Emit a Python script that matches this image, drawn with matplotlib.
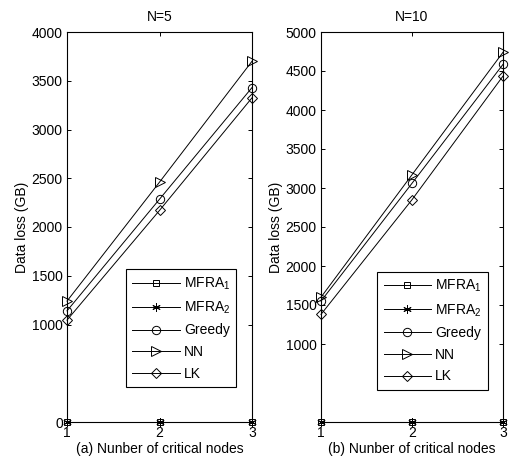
import numpy as np
import matplotlib
matplotlib.use('Agg')
import matplotlib.pyplot as plt

plt.rcParams['font.family'] = ['Liberation Sans', 'DejaVu Sans']
plt.rcParams['font.size'] = 10
plt.rcParams['mathtext.fontset'] = 'custom'
plt.rcParams['mathtext.rm'] = 'Liberation Sans'

# data
x = [1, 2, 3]
series_names = ['MFRA$_1$', 'MFRA$_2$', 'Greedy', 'NN', 'LK']
markers = ['s', (6, 2, 0), 'o', '>', 'D']
msizes = [5, 6, 6, 6.5, 5]

mfra1_n5 = [0, 0, 0]
mfra2_n5 = [0, 0, 0]
greedy_n5 = [1140, 2285, 3430]
nn_n5 = [1240, 2460, 3700]
lk_n5 = [1045, 2170, 3325]

mfra1_n10 = [0, 0, 0]
mfra2_n10 = [0, 0, 0]
greedy_n10 = [1550, 3060, 4585]
nn_n10 = [1600, 3170, 4740]
lk_n10 = [1380, 2850, 4435]

yticks_n5 = [0, 1000, 1500, 2000, 2500, 3000, 3500, 4000]
yticks_n10 = [1000, 1500, 2000, 2500, 3000, 3500, 4000, 4500, 5000]

panels = [
    dict(title='N=5', xlabel='(a) Nunber of critical nodes', ymax=4000, yticks=yticks_n5,
         data=[mfra1_n5, mfra2_n5, greedy_n5, nn_n5, lk_n5],
         rect=[67/510, 48/470, 185/510, 390/470], leg=(0.32, 0.392)),
    dict(title='N=10', xlabel='(b) Nunber of critical nodes', ymax=5000, yticks=yticks_n10,
         data=[mfra1_n10, mfra2_n10, greedy_n10, nn_n10, lk_n10],
         rect=[321/510, 48/470, 182/510, 390/470], leg=(0.31, 0.385)),
]

fig = plt.figure(figsize=(5.1, 4.7), dpi=100)

for p in panels:
    ax = fig.add_axes(p['rect'])
    for name, mk, ms, vals in zip(series_names, markers, msizes, p['data']):
        ax.plot(x, vals, color='black', lw=0.7, marker=mk, markersize=ms,
                markerfacecolor='none', markeredgecolor='black', markeredgewidth=0.7,
                label=name, clip_on=False)
    ax.set_xlim(1, 3)
    ax.set_ylim(0, p['ymax'])
    ax.set_xticks(x)
    ax.set_yticks(p['yticks'])
    ax.tick_params(direction='in', top=True, right=True, length=3, width=0.7, pad=3)
    for s in ax.spines.values():
        s.set_linewidth(0.8)
    ax.set_title(p['title'], fontsize=10, pad=8)
    ax.set_xlabel(p['xlabel'], labelpad=1)
    ax.set_ylabel('Data loss (GB)', labelpad=2)
    leg = ax.legend(loc='upper left', bbox_to_anchor=p['leg'], fancybox=False,
                    edgecolor='black', framealpha=1, handlelength=3.4,
                    borderpad=0.45, labelspacing=0.55, handletextpad=0.3,
                    borderaxespad=0)
    leg.get_frame().set_linewidth(0.8)

fig.savefig('out.png', dpi=100)
